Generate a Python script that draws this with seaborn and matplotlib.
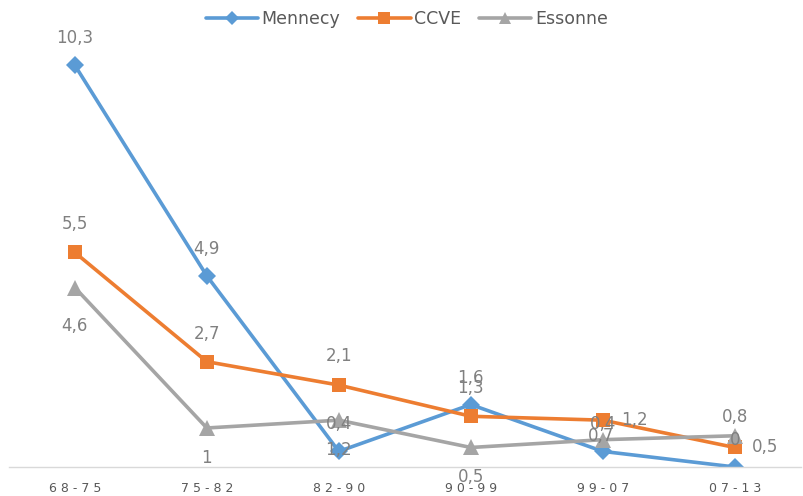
import pandas as pd
import numpy as np
import seaborn as sns
import matplotlib.pyplot as plt

periodes = ['68-75', '75-82', '82-90', '90-99', '99-07', '07-13']
series = ['Mennecy', 'CCVE', 'Essonne']
mennecy = [10.3, 4.9, 0.4, 1.6, 0.4, 0]
ccve = [5.5, 2.7, 2.1, 1.3, 1.2, 0.5]
essonne = [4.6, 1, 1.2, 0.5, 0.7, 0.8]

couleurs = {'Mennecy': '#5B9BD5', 'CCVE': '#ED7D31', 'Essonne': '#A5A5A5'}
marqueurs = {'Mennecy': 'D', 'CCVE': 's', 'Essonne': '^'}

rows = []
for nom, vals in zip(series, [mennecy, ccve, essonne]):
    for i, v in enumerate(vals):
        rows.append({'serie': nom, 'x': i, 'valeur': v})
df = pd.DataFrame(rows)

sns.set_theme(style='white')
plt.rcParams['font.family'] = ['DejaVu Sans']

fig = plt.figure(figsize=(8.04, 4.96), dpi=100)
ax = fig.add_axes([0.011, 0.0585, 0.985, 0.865])

sns.lineplot(data=df, x='x', y='valeur', hue='serie', style='serie',
             hue_order=series, style_order=series,
             palette=couleurs, markers=marqueurs, dashes=False,
             linewidth=2.6, markersize=10, markeredgewidth=0, ax=ax, legend=False)
# marker sizes differ a bit per serie
for line, nom in zip(ax.lines, series):
    line.set_markersize({'Mennecy': 9, 'CCVE': 10.5, 'Essonne': 11}[nom])

ax.set_xlim(-0.5, len(periodes) - 0.5)
ax.set_ylim(0, 11)
ax.set_xticks(range(len(periodes)))
ax.set_xticklabels([' '.join(p) for p in periodes], fontsize=9, color='#595959')
ax.set_yticks([])
ax.set_xlabel('')
ax.set_ylabel('')
ax.tick_params(axis='x', length=0, pad=10.5)
for s in ['top', 'left', 'right']:
    ax.spines[s].set_visible(False)
ax.spines['bottom'].set_color('#D9D9D9')
ax.spines['bottom'].set_linewidth(1)

# data labels (offsets in pixels, mimicking the Excel placement)
decal = {
    'Mennecy': [(0, 27)] * 6,
    'CCVE': [(0, 28), (0, 28), (0, 29), (0, 28), (32, 0), (30, 0)],
    'Essonne': [(0, -38), (0, -30), (0, -30), (0, -30), (-2, 4), (0, 19)],
}
for nom, vals in zip(series, [mennecy, ccve, essonne]):
    for i, v in enumerate(vals):
        txt = ('%g' % v).replace('.', ',')
        ax.annotate(txt, (i, v), xytext=decal[nom][i], textcoords='offset pixels',
                    ha='center', va='center', fontsize=12, color='#808080',
                    annotation_clip=False)

handles = [plt.Line2D([], [], color=couleurs[n], marker=marqueurs[n], lw=2.6,
                      markersize={'Mennecy': 7, 'CCVE': 8, 'Essonne': 8}[n],
                      markeredgewidth=0) for n in series]
fig.legend(handles, series, loc='center', bbox_to_anchor=(0.506, 0.962), ncol=3,
           frameon=False, fontsize=12.5, handlelength=3.0, handletextpad=0.2,
           columnspacing=1.05, labelcolor='#595959')

fig.savefig('out.png', dpi=100)
